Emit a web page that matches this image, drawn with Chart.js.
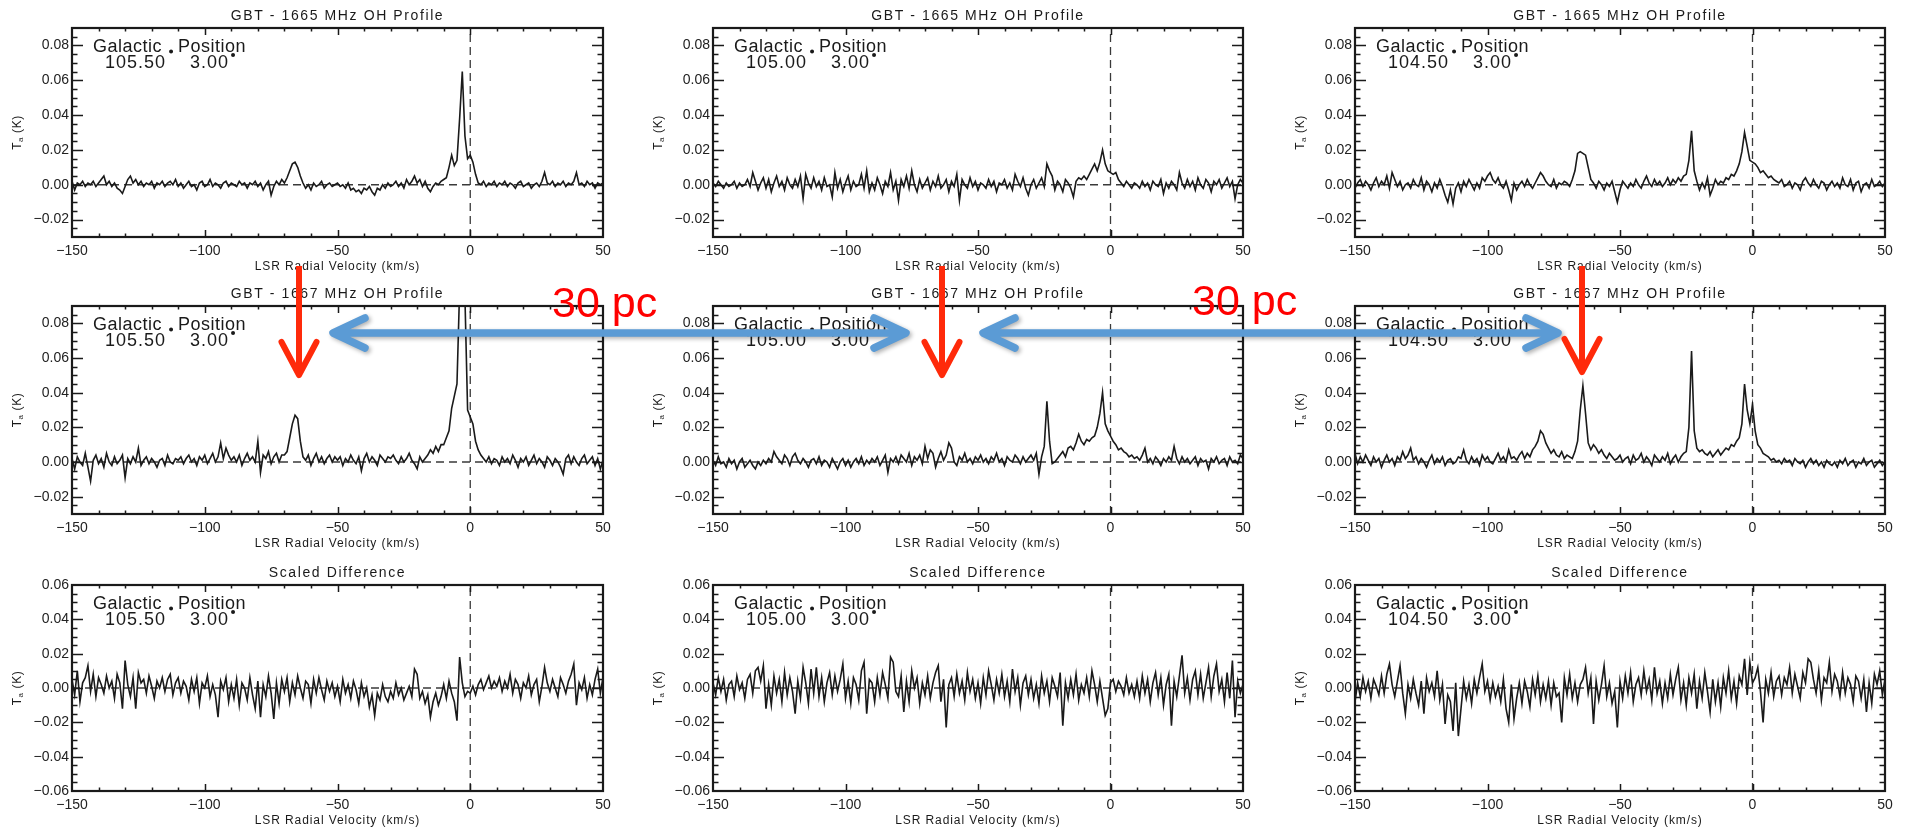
<!DOCTYPE html>
<html>
<head>
<meta charset="utf-8">
<title>GBT OH profiles</title>
<script src="https://cdn.jsdelivr.net/npm/chart.js@4.4.1/dist/chart.umd.min.js"></script>
<style>
  html, body { margin: 0; padding: 0; background: #ffffff; width: 1908px; height: 831px; overflow: hidden; }
  canvas.panel { position: absolute; }
  #overlay { position: absolute; left: 0; top: 0; z-index: 10; pointer-events: none; }
</style>
</head>
<body>
<canvas id="overlay" width="1908" height="831"></canvas>
<script>
// ---------------------------------------------------------------------------
// Spectral data: LSR velocity channels (km/s) and antenna temperatures (mK)
// ---------------------------------------------------------------------------
const velocity = [
  -150,-149,-148,-147,-146,-145,-144,-143,-142,-141,-140,-139,-138,-137,-136,-135,-134,-133,-132,-131,
  -130,-129,-128,-127,-126,-125,-124,-123,-122,-121,-120,-119,-118,-117,-116,-115,-114,-113,-112,-111,
  -110,-109,-108,-107,-106,-105,-104,-103,-102,-101,-100,-99,-98,-97,-96,-95,-94,-93,-92,-91,
  -90,-89,-88,-87,-86,-85,-84,-83,-82,-81,-80,-79,-78,-77,-76,-75,-74,-73,-72,-71,
  -70,-69,-68,-67,-66,-65,-64,-63,-62,-61,-60,-59,-58,-57,-56,-55,-54,-53,-52,-51,
  -50,-49,-48,-47,-46,-45,-44,-43,-42,-41,-40,-39,-38,-37,-36,-35,-34,-33,-32,-31,
  -30,-29,-28,-27,-26,-25,-24,-23,-22,-21,-20,-19,-18,-17,-16,-15,-14,-13,-12,-11,
  -10,-9,-8,-7,-6,-5,-4,-3,-2,-1,0,1,2,3,4,5,6,7,8,9,
  10,11,12,13,14,15,16,17,18,19,20,21,22,23,24,25,26,27,28,29,
  30,31,32,33,34,35,36,37,38,39,40,41,42,43,44,45,46,47,48,49,
  50
];

// 1665 MHz OH profile, l = 105.50, b = 3.00 (mK)
const oh1665_l105_50 = [
  2,-3,1,0,2,-1,1,0,2,-1,1,3,5,0,2,-1,1,-2,-3,-5,
  -1,3,5,1,3,0,2,-1,1,0,2,-2,1,0,2,-1,1,2,0,3,
  -1,1,-2,0,2,-1,0,-3,1,2,-1,0,3,-1,1,0,-2,1,2,-1,
  1,0,-1,2,0,1,-2,1,0,2,-1,1,-3,0,2,-6,-1,2,0,3,
  1,4,8,12,13,10,5,1,-2,0,-3,1,-1,0,2,-2,0,1,-1,0,
  1,-1,0,-2,1,-3,-2,-4,-3,-5,-2,-3,-1,-4,-6,-2,-3,0,-2,1,
  -1,0,2,-1,1,-2,3,0,2,5,1,3,-1,2,-2,-4,-1,1,0,2,
  3,4,10,17,11,14,38,65,28,15,17,13,6,1,0,2,-1,1,0,2,
  -1,1,0,2,-1,1,0,-2,1,2,-1,0,1,-2,0,1,-1,2,7,1,
  0,2,-1,1,0,2,-1,1,0,2,7,0,1,-1,2,0,1,-2,1,0,
  1
];

// 1665 MHz OH profile, l = 105.00, b = 3.00 (mK)
const oh1665_l105_00 = [
  1,-1,2,0,-2,1,-1,0,2,-2,1,-1,0,3,-1,7,2,-3,1,4,
  -2,3,-4,1,5,-1,2,-3,4,0,-2,3,-1,5,-8,6,1,-2,4,-1,
  2,-3,4,-1,0,-7,7,-2,3,-4,1,5,-3,2,-1,0,6,-2,8,-4,
  1,-3,4,0,-5,2,-1,7,-3,2,-9,3,-1,5,-2,8,0,-4,3,-2,
  1,4,-3,2,-1,5,-2,0,3,-4,2,-1,6,-9,3,0,-2,4,-1,2,
  -3,1,0,-2,3,-1,2,-4,1,0,3,-2,1,-3,6,2,-1,4,-2,-6,
  0,3,-2,1,4,-1,12,8,5,-3,2,0,-4,3,1,-2,-7,2,4,3,
  5,3,6,9,12,8,13,20,12,8,7,6,7,3,1,-1,2,0,-2,1,
  0,-2,2,-1,1,-3,2,0,-1,3,-5,1,-2,2,0,-3,7,1,-2,3,
  -1,2,-3,4,0,-2,3,1,-4,2,0,3,-2,1,4,-1,2,-8,0,3,
  1
];

// 1665 MHz OH profile, l = 104.50, b = 3.00 (mK)
const oh1665_l104_50 = [
  -2,1,3,-1,2,0,-3,1,4,-1,2,0,5,-2,7,3,-1,2,-3,0,
  1,-2,3,0,-1,4,-3,2,0,-4,1,-2,3,-1,-6,-10,-3,-11,-2,1,
  -4,2,-1,3,0,-3,1,-2,4,2,5,7,3,1,4,0,-2,2,-3,-9,
  1,-3,0,2,-1,3,0,-2,1,4,7,5,2,0,-1,3,-2,1,0,2,
  1,-1,3,8,18,19,18,17,10,3,1,-2,2,0,-3,1,-1,2,-4,-10,
  -3,2,0,-2,1,-1,3,0,-2,2,5,1,-1,3,0,2,-1,1,4,0,
  3,1,4,2,5,6,14,31,8,2,-3,1,-2,4,-6,-2,3,0,2,1,
  4,3,6,5,8,12,19,30,22,14,13,12,10,7,8,6,4,5,3,2,
  1,3,-1,0,2,-2,1,0,-3,2,4,1,-1,3,0,-2,2,1,-3,0,
  2,-1,1,-2,4,0,-1,3,-3,1,2,-4,0,1,-2,3,-1,0,2,-1,
  1
];

// 1667 MHz OH profile, l = 105.50, b = 3.00 (mK)
const oh1667_l105_50 = [
  2,-4,3,0,-2,5,-3,-11,1,4,-1,2,-3,5,0,-2,3,-1,1,4,
  -9,2,-1,3,0,8,-2,1,3,-1,2,0,-3,1,2,-2,4,0,-1,2,
  1,3,-1,2,4,0,2,-2,3,1,4,-1,2,5,0,3,11,2,8,4,
  1,3,0,4,-2,2,5,1,3,0,12,-6,4,2,6,-1,3,5,0,4,
  4,6,14,22,27,25,12,3,1,4,-2,2,5,0,3,-1,2,4,0,3,
  1,3,-2,2,0,4,1,-1,3,-5,2,5,0,3,1,-2,4,2,0,3,
  2,4,1,-1,3,0,2,5,1,-1,-4,3,0,2,4,7,5,9,6,10,
  10,14,18,31,38,45,100,120,95,30,26,22,12,7,4,2,0,3,-1,2,
  1,-2,3,0,2,-1,4,1,-3,2,0,3,-2,1,4,-1,2,0,-3,3,
  1,-2,2,0,-3,-7,2,4,-1,3,0,-2,2,4,-1,1,3,-2,2,-4,
  1
];

// 1667 MHz OH profile, l = 105.00, b = 3.00 (mK)
const oh1667_l105_00 = [
  1,-2,3,-1,0,-3,2,-1,1,-4,0,2,-3,-1,1,-2,-4,0,-2,1,
  -1,2,0,6,3,1,-1,4,2,-2,3,5,1,-1,2,0,-3,1,2,-1,
  3,-2,1,0,-3,2,-1,-4,0,2,-2,1,-3,0,2,-1,3,-2,1,-1,
  2,0,3,-2,1,4,-6,2,0,3,-1,4,2,0,5,-2,3,1,4,-1,
  9,2,7,5,-3,2,6,1,4,11,8,0,-2,3,1,5,0,2,-1,3,
  1,4,0,2,-1,3,1,5,0,2,-2,3,1,0,4,2,-1,3,0,2,
  4,1,5,-7,3,9,35,12,-1,0,2,4,6,3,8,9,7,11,16,12,
  10,13,12,14,15,20,28,40,22,18,15,12,10,7,8,6,5,3,4,2,
  3,1,4,8,0,2,-1,3,1,-2,2,0,3,1,9,2,-1,3,0,2,
  -1,1,3,-2,2,0,1,-4,2,0,3,-1,1,2,-2,3,0,1,-1,4,
  2
];

// 1667 MHz OH profile, l = 104.50, b = 3.00 (mK)
const oh1667_l104_50 = [
  5,-1,3,0,4,1,-2,3,0,2,-3,1,4,0,2,-2,3,1,6,2,
  4,8,1,3,-1,2,0,-3,1,4,-1,2,0,3,-2,1,2,-1,0,3,
  2,7,1,-1,3,0,2,-2,4,1,3,0,-1,2,5,1,3,0,7,2,
  3,1,4,6,2,5,3,7,9,12,18,16,11,8,5,7,4,3,6,2,
  4,3,2,6,12,30,44,28,11,7,10,8,5,7,4,2,5,3,1,2,
  4,0,2,3,-1,4,1,2,5,0,3,1,-2,4,2,0,3,1,5,-1,
  2,4,0,3,5,6,20,64,18,8,6,7,5,4,6,3,5,7,4,6,
  8,7,10,9,12,14,22,45,30,22,33,18,10,8,5,4,3,1,2,0,
  1,-1,2,0,1,-2,2,0,-1,1,-3,0,2,-1,1,-2,0,-3,1,-1,
  -2,0,-3,1,-1,2,-2,0,1,-3,0,-1,2,-2,0,1,-3,-1,1,-2,
  0
];

// Scaled difference (1667 minus scaled 1665), l = 105.50 (mK)
const diff_l105_50 = [
  5,-4,10,-8,3,6,13,-2,8,-5,6,2,-3,7,0,4,-6,8,3,-12,
  16,2,-5,6,-12,9,3,5,-3,7,1,-6,4,0,6,-2,5,8,-4,3,
  6,-3,4,1,-7,5,-2,6,-9,3,0,7,-5,2,-4,-17,4,-1,6,-8,
  2,-6,5,-10,3,0,-7,6,-4,-12,4,-17,2,-5,7,-3,-18,3,-9,5,
  -2,6,-8,3,-4,7,0,-6,4,2,-9,5,-3,6,-1,-7,4,-2,3,-5,
  1,-8,5,-3,2,-6,4,-1,-9,3,-5,0,-11,-4,-16,-3,-7,2,-5,-8,
  -2,-6,3,-4,0,-7,-3,1,-5,11,8,-6,-2,-9,-4,-17,-8,-3,-10,-5,
  2,-6,4,-3,-8,-19,18,3,-5,-2,-3,1,-4,2,5,-1,3,7,0,4,
  1,6,-2,4,0,8,-3,5,2,-6,3,0,7,-4,2,5,-8,1,12,3,
  -2,5,0,-5,6,2,-3,4,8,14,-10,3,-1,6,-6,2,-4,5,11,-3,
  6
];

// Scaled difference, l = 105.00 (mK)
const diff_l105_00 = [
  3,-4,6,-2,5,-7,2,4,-5,7,-1,3,-6,5,8,-3,10,12,4,13,
  -12,2,-10,7,-3,5,-8,9,-4,6,-2,-15,4,-6,12,3,-9,11,-3,12,
  -5,6,-8,3,9,-4,7,-2,5,14,-6,4,-9,6,2,-7,10,15,-15,5,
  3,-8,6,-4,9,2,-6,18,15,-2,-5,7,-14,4,-8,10,0,6,-9,3,
  -4,7,-6,3,9,13,-8,5,-23,2,6,-5,8,-3,4,-7,9,-2,5,-6,
  3,-9,6,-4,10,2,-7,5,-3,8,-5,4,-8,11,-2,6,-10,3,7,-4,
  5,-6,2,-9,7,-3,4,-8,6,1,-5,9,-22,3,-6,5,-4,8,-7,2,
  -3,6,-5,10,2,-8,4,-6,-16,-12,3,5,-2,4,1,-4,6,-3,2,-5,
  4,-6,7,-3,5,-8,3,9,-4,6,-10,2,8,-22,4,-5,7,19,-3,6,
  -7,5,10,-4,8,-6,3,12,-5,7,14,-2,5,-8,9,-6,16,-17,4,-3,
  2
];

// Scaled difference, l = 104.50 (mK)
const diff_l104_50 = [
  -8,3,-5,6,-2,4,-6,5,1,-4,7,-3,8,14,2,-5,4,13,-3,-15,
  2,-6,5,-3,-10,4,-15,6,-2,3,-5,10,-7,2,-21,-4,-8,-25,3,-28,
  -12,4,-6,2,-9,5,-3,6,14,-2,4,-7,3,-5,1,-8,5,-12,-20,2,
  -18,-6,3,-9,4,-2,-11,5,-4,7,-8,2,-6,4,-10,3,-5,-3,-20,6,
  -4,8,-6,3,-8,2,5,12,-3,6,-21,4,-7,2,13,-5,3,-9,-2,-23,
  4,-6,7,-3,9,-8,2,6,-4,10,-2,5,-7,12,-3,4,-9,3,-6,8,
  -4,5,12,-7,3,-10,6,-3,8,-12,4,-6,9,-2,-14,5,-8,3,-11,6,
  -3,10,-6,4,-9,7,2,17,-4,15,3,6,12,-2,-20,5,-3,9,-5,4,
  7,-4,6,2,12,-3,8,1,-6,9,3,17,15,5,-3,10,-7,6,3,15,
  -2,8,4,-5,9,-3,6,2,-8,7,4,-6,5,-14,3,-9,8,2,10,-4,
  5
];

// Axis ticks and labels
const xTickValues = [-150, -100, -50, 0, 50];
const yTicksProfile = [-0.02, 0.00, 0.02, 0.04, 0.06, 0.08];
const yTicksDiff = [-0.06, -0.04, -0.02, 0.00, 0.02, 0.04, 0.06];
const rowTitles = ['GBT - 1665 MHz OH Profile', 'GBT - 1667 MHz OH Profile', 'Scaled Difference'];
const longitudes = ['105.50', '105.00', '104.50'];
const latitude = '3.00';
const distanceLabel = '30 pc';

// ---------------------------------------------------------------------------
// Layout and styling
// ---------------------------------------------------------------------------
const MK_TO_K = 0.001;
const INK = '#1a1a1a';
const FONT = '"Liberation Sans", Arial, Helvetica, sans-serif';
const X_RANGE = [-150, 50];
const X_MINOR = 10;
const Y_MINOR = 0.005;
const ROW_Y_RANGE = [[-0.03, 0.09], [-0.03, 0.09], [-0.06, 0.06]];
const ROW_Y_TICKS = [yTicksProfile, yTicksProfile, yTicksDiff];

const FRAME_LEFT = [72, 713, 1355];
const FRAME_RIGHT = [603, 1243, 1885];
const FRAME_TOP = [28, 306, 585];
const FRAME_BOTTOM = [237, 514, 791];
const AXIS_W = 72, PAD_T = 28, PAD_R = 14, AXIS_H = 40;

const panels = [
  { row: 0, col: 0, values: oh1665_l105_50 },
  { row: 0, col: 1, values: oh1665_l105_00 },
  { row: 0, col: 2, values: oh1665_l104_50 },
  { row: 1, col: 0, values: oh1667_l105_50 },
  { row: 1, col: 1, values: oh1667_l105_00 },
  { row: 1, col: 2, values: oh1667_l104_50 },
  { row: 2, col: 0, values: diff_l105_50 },
  { row: 2, col: 1, values: diff_l105_00 },
  { row: 2, col: 2, values: diff_l104_50 }
];

function signed(str) { return str.replace('-', '\u2212'); }

// IDL-style box: thick frame with inward major/minor ticks on all four sides
const idlFrame = {
  id: 'idlFrame',
  afterDatasetsDraw(chart, args, opts) {
    const { ctx, chartArea: { left, right, top, bottom }, scales: { x, y } } = chart;
    ctx.save();
    ctx.strokeStyle = INK;
    ctx.lineWidth = 1.5;
    ctx.beginPath();
    const kx0 = Math.round(X_RANGE[0] / X_MINOR), kx1 = Math.round(X_RANGE[1] / X_MINOR);
    for (let k = kx0 + 1; k < kx1; k++) {
      const px = Math.round(x.getPixelForValue(k * X_MINOR)) + 0.5;
      const len = (k % 5 === 0) ? 7 : 3.5;
      ctx.moveTo(px, bottom); ctx.lineTo(px, bottom - len);
      ctx.moveTo(px, top); ctx.lineTo(px, top + len);
    }
    const [ymin, ymax] = opts.yRange;
    const ky0 = Math.round(ymin / Y_MINOR), ky1 = Math.round(ymax / Y_MINOR);
    for (let k = ky0 + 1; k < ky1; k++) {
      const py = Math.round(y.getPixelForValue(k * Y_MINOR)) + 0.5;
      const len = (k % 4 === 0) ? 11 : 5.5;
      ctx.moveTo(left, py); ctx.lineTo(left + len, py);
      ctx.moveTo(right, py); ctx.lineTo(right - len, py);
    }
    ctx.stroke();
    ctx.lineWidth = 2.2;
    ctx.strokeRect(left, top, right - left, bottom - top);
    ctx.restore();
  },
  afterDraw(chart, args, opts) {
    const { ctx, chartArea: { left, right, top, bottom } } = chart;
    ctx.save();
    ctx.fillStyle = INK;

    // panel title
    ctx.font = '14px ' + FONT;
    ctx.letterSpacing = '1.6px';
    ctx.textAlign = 'center';
    ctx.textBaseline = 'middle';
    ctx.fillText(opts.title, (left + right) / 2, top - 12);

    // x-axis title
    ctx.font = '12px ' + FONT;
    ctx.letterSpacing = '0.9px';
    ctx.fillText('LSR Radial Velocity (km/s)', (left + right) / 2, bottom + 30);

    // y-axis title: T_a (K)
    ctx.save();
    ctx.translate(left - 54, (top + bottom) / 2);
    ctx.rotate(-Math.PI / 2);
    ctx.textAlign = 'left';
    ctx.textBaseline = 'middle';
    ctx.letterSpacing = '0.6px';
    ctx.font = '12px ' + FONT;
    const wT = ctx.measureText('T').width;
    const wK = ctx.measureText(' (K)').width;
    ctx.font = '8px ' + FONT;
    const wa = ctx.measureText('a').width;
    let cx = -(wT + wa + wK) / 2;
    ctx.font = '12px ' + FONT;
    ctx.fillText('T', cx, 0); cx += wT;
    ctx.font = '8px ' + FONT;
    ctx.fillText('a', cx, 3); cx += wa;
    ctx.font = '12px ' + FONT;
    ctx.fillText(' (K)', cx, 0);
    ctx.restore();

    // position annotation
    ctx.font = '18px ' + FONT;
    ctx.letterSpacing = '0.5px';
    ctx.textAlign = 'left';
    ctx.textBaseline = 'alphabetic';
    ctx.fillText('Galactic', left + 21, top + 23.5);
    ctx.fillText('Position', left + 106, top + 23.5);
    ctx.letterSpacing = '1px';
    ctx.fillText(opts.lon, left + 33, top + 40);
    ctx.fillText(latitude, left + 118, top + 40);
    const wLon = ctx.measureText(opts.lon).width;
    const wLat = ctx.measureText(latitude).width;
    ctx.beginPath();
    ctx.arc(left + 33 + wLon + 5, top + 23.5, 2, 0, Math.PI * 2);
    ctx.moveTo(left + 118 + wLat + 6, top + 27);
    ctx.arc(left + 118 + wLat + 4, top + 27, 2, 0, Math.PI * 2);
    ctx.fill();
    ctx.restore();
  }
};

const charts = [];

function buildPanel(p) {
  const L = FRAME_LEFT[p.col], R = FRAME_RIGHT[p.col];
  const T = FRAME_TOP[p.row], B = FRAME_BOTTOM[p.row];
  const cv = document.createElement('canvas');
  cv.className = 'panel';
  cv.width = R - L + AXIS_W + PAD_R;
  cv.height = B - T + PAD_T + AXIS_H;
  cv.style.left = (L - AXIS_W) + 'px';
  cv.style.top = (T - PAD_T) + 'px';
  document.body.insertBefore(cv, document.getElementById('overlay'));

  const yRange = ROW_Y_RANGE[p.row];
  const yTicks = ROW_Y_TICKS[p.row];
  const spectrum = velocity.map((v, i) => ({ x: v, y: p.values[i] * MK_TO_K }));
  const zeroLevel = [{ x: X_RANGE[0], y: 0 }, { x: X_RANGE[1], y: 0 }];
  const zeroVelocity = [{ x: 0, y: yRange[0] }, { x: 0, y: yRange[1] }];

  const chart = new Chart(cv.getContext('2d'), {
    type: 'line',
    data: {
      datasets: [
        { data: spectrum, borderColor: INK, borderWidth: 1.6, pointRadius: 0, tension: 0, fill: false },
        { data: zeroLevel, borderColor: '#3a3a3a', borderWidth: 1.3, borderDash: [8, 5], pointRadius: 0, fill: false },
        { data: zeroVelocity, borderColor: '#3a3a3a', borderWidth: 1.3, borderDash: [8, 5], pointRadius: 0, fill: false }
      ]
    },
    options: {
      responsive: false,
      animation: false,
      events: [],
      layout: { padding: { left: 0, top: PAD_T, right: PAD_R, bottom: 0 } },
      plugins: {
        legend: { display: false },
        tooltip: { enabled: false },
        idlFrame: { title: rowTitles[p.row], lon: longitudes[p.col], yRange }
      },
      scales: {
        x: {
          type: 'linear', min: X_RANGE[0], max: X_RANGE[1],
          grid: { display: false, drawTicks: false },
          border: { display: false },
          ticks: {
            padding: 6, autoSkip: false, maxRotation: 0, color: '#222222',
            font: { family: FONT, size: 14 },
            callback: v => signed(String(v))
          },
          afterBuildTicks: s => { s.ticks = xTickValues.map(v => ({ value: v })); },
          afterFit: s => { s.height = AXIS_H; }
        },
        y: {
          type: 'linear', min: yRange[0], max: yRange[1],
          grid: { display: false, drawTicks: false },
          border: { display: false },
          ticks: {
            padding: 3, autoSkip: false, color: '#222222',
            font: { family: FONT, size: 14 },
            callback: v => signed((Math.abs(v) < 1e-9 ? 0 : v).toFixed(2))
          },
          afterBuildTicks: s => { s.ticks = yTicks.map(v => ({ value: v })); },
          afterFit: s => { s.width = AXIS_W; }
        }
      }
    },
    plugins: [idlFrame]
  });
  charts.push(chart);
}

panels.forEach(buildPanel);

// ---------------------------------------------------------------------------
// Annotations: separation arrows and markers over the 1667 MHz row
// ---------------------------------------------------------------------------
const redArrows = [
  { x: 299, y0: 266, y1: 375 },
  { x: 942, y0: 266, y1: 375 },
  { x: 1582, y0: 266, y1: 372 }
];
const blueArrows = [
  { x0: 333, x1: 906, y: 333 },
  { x0: 983, x1: 1558, y: 333 }
];
const labelSpots = [
  { x: 552, y: 317 },
  { x: 1192, y: 315 }
];

(function drawAnnotations() {
  const o = document.getElementById('overlay').getContext('2d');
  o.lineCap = 'round';
  o.lineJoin = 'round';

  // blue double-headed arrows with a soft drop shadow
  o.save();
  o.shadowColor = 'rgba(0,0,0,0.3)';
  o.shadowBlur = 4;
  o.shadowOffsetX = 2;
  o.shadowOffsetY = 2;
  o.strokeStyle = '#5b9bd5';
  o.lineWidth = 7.5;
  blueArrows.forEach(a => {
    o.beginPath();
    o.moveTo(a.x0 + 3, a.y); o.lineTo(a.x1 - 3, a.y);
    o.moveTo(a.x0 + 32, a.y - 15); o.lineTo(a.x0, a.y); o.lineTo(a.x0 + 32, a.y + 15);
    o.moveTo(a.x1 - 32, a.y - 15); o.lineTo(a.x1, a.y); o.lineTo(a.x1 - 32, a.y + 15);
    o.stroke();
  });
  o.restore();

  // red downward markers
  o.save();
  o.strokeStyle = '#ff2a0a';
  o.lineWidth = 6;
  redArrows.forEach(a => {
    o.beginPath();
    o.lineCap = 'butt';
    o.moveTo(a.x, a.y0); o.lineTo(a.x, a.y1 - 3);
    o.stroke();
    o.beginPath();
    o.lineCap = 'round';
    o.moveTo(a.x - 17.5, a.y1 - 33); o.lineTo(a.x, a.y1); o.lineTo(a.x + 17.5, a.y1 - 33);
    o.stroke();
  });
  o.restore();

  // distance labels
  o.save();
  o.fillStyle = '#ff0000';
  o.font = '43px ' + FONT;
  o.textAlign = 'left';
  o.textBaseline = 'alphabetic';
  labelSpots.forEach(s => o.fillText(distanceLabel, s.x, s.y));
  o.restore();
})();
</script>
</body>
</html>
